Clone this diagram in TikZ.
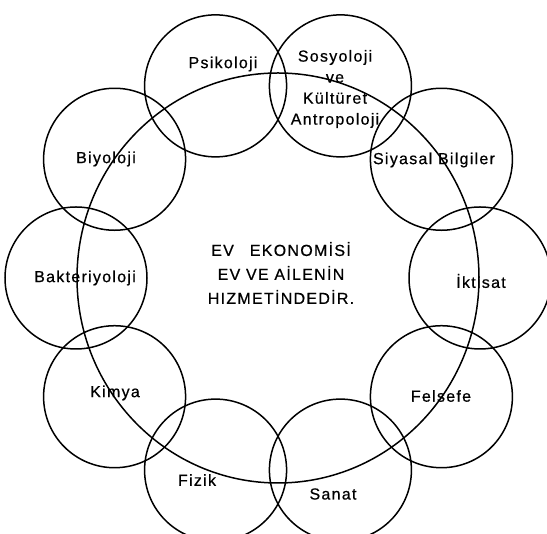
\documentclass[tikz,border=0pt]{standalone}
\usepackage{fontspec}
\setmainfont{Liberation Sans}
\newfontfamily\lblfont[LetterSpace=8,FakeBold=0.6]{Liberation Sans}
\usetikzlibrary{positioning}
\tikzset{
  lbl/.style={font=\lblfont\fontsize{16}{21}\selectfont, inner sep=0pt, align=center},
  ctr/.style={font=\lblfont\fontsize{16}{24}\selectfont, inner sep=0pt, align=center}
}

\begin{document}
\begin{tikzpicture}[x=1pt,y=1pt,line width=1.5pt]
    \useasboundingbox (0,0) rectangle (547,534);
    \coordinate (o) at (278,256);
    % big circle
    \draw (o) ellipse [x radius=201, y radius=205];
    % ten small circles round it
    \foreach \a in {0,36,...,324}
        \draw (o) ++(\a:202) circle (71);

    \node[ctr] (ev) at (281,261) {EV\hspace{1em}EKONOMİSİ\\EV VE AİLENİN\\HIZMETİNDEDİR.};

    \node[lbl] (psik) at (223,470) {Psikoloji};
    \node[lbl] (sosy) at (335,445) {Sosyoloji\\ve\\Kültüret\\Antropoloji};
    \node[lbl] (siya) at (434,374) {Siyasal Bilgiler};
    \node[lbl] (ikti) at (481,253) {İktisat};
    \node[lbl] (fels) at (441,138) {Felsefe};
    \node[lbl] (sana) at (333,40) {Sanat};
    \node[lbl] (fizi) at (197,54) {Fizik};
    \node[lbl] (kimy) at (115,141) {Kimya};
    \node[lbl] (bakt) at (85,256) {Bakteriyoloji};
    \node[lbl] (biyo) at (106,375) {Biyoloji};
\end{tikzpicture}
\end{document}
